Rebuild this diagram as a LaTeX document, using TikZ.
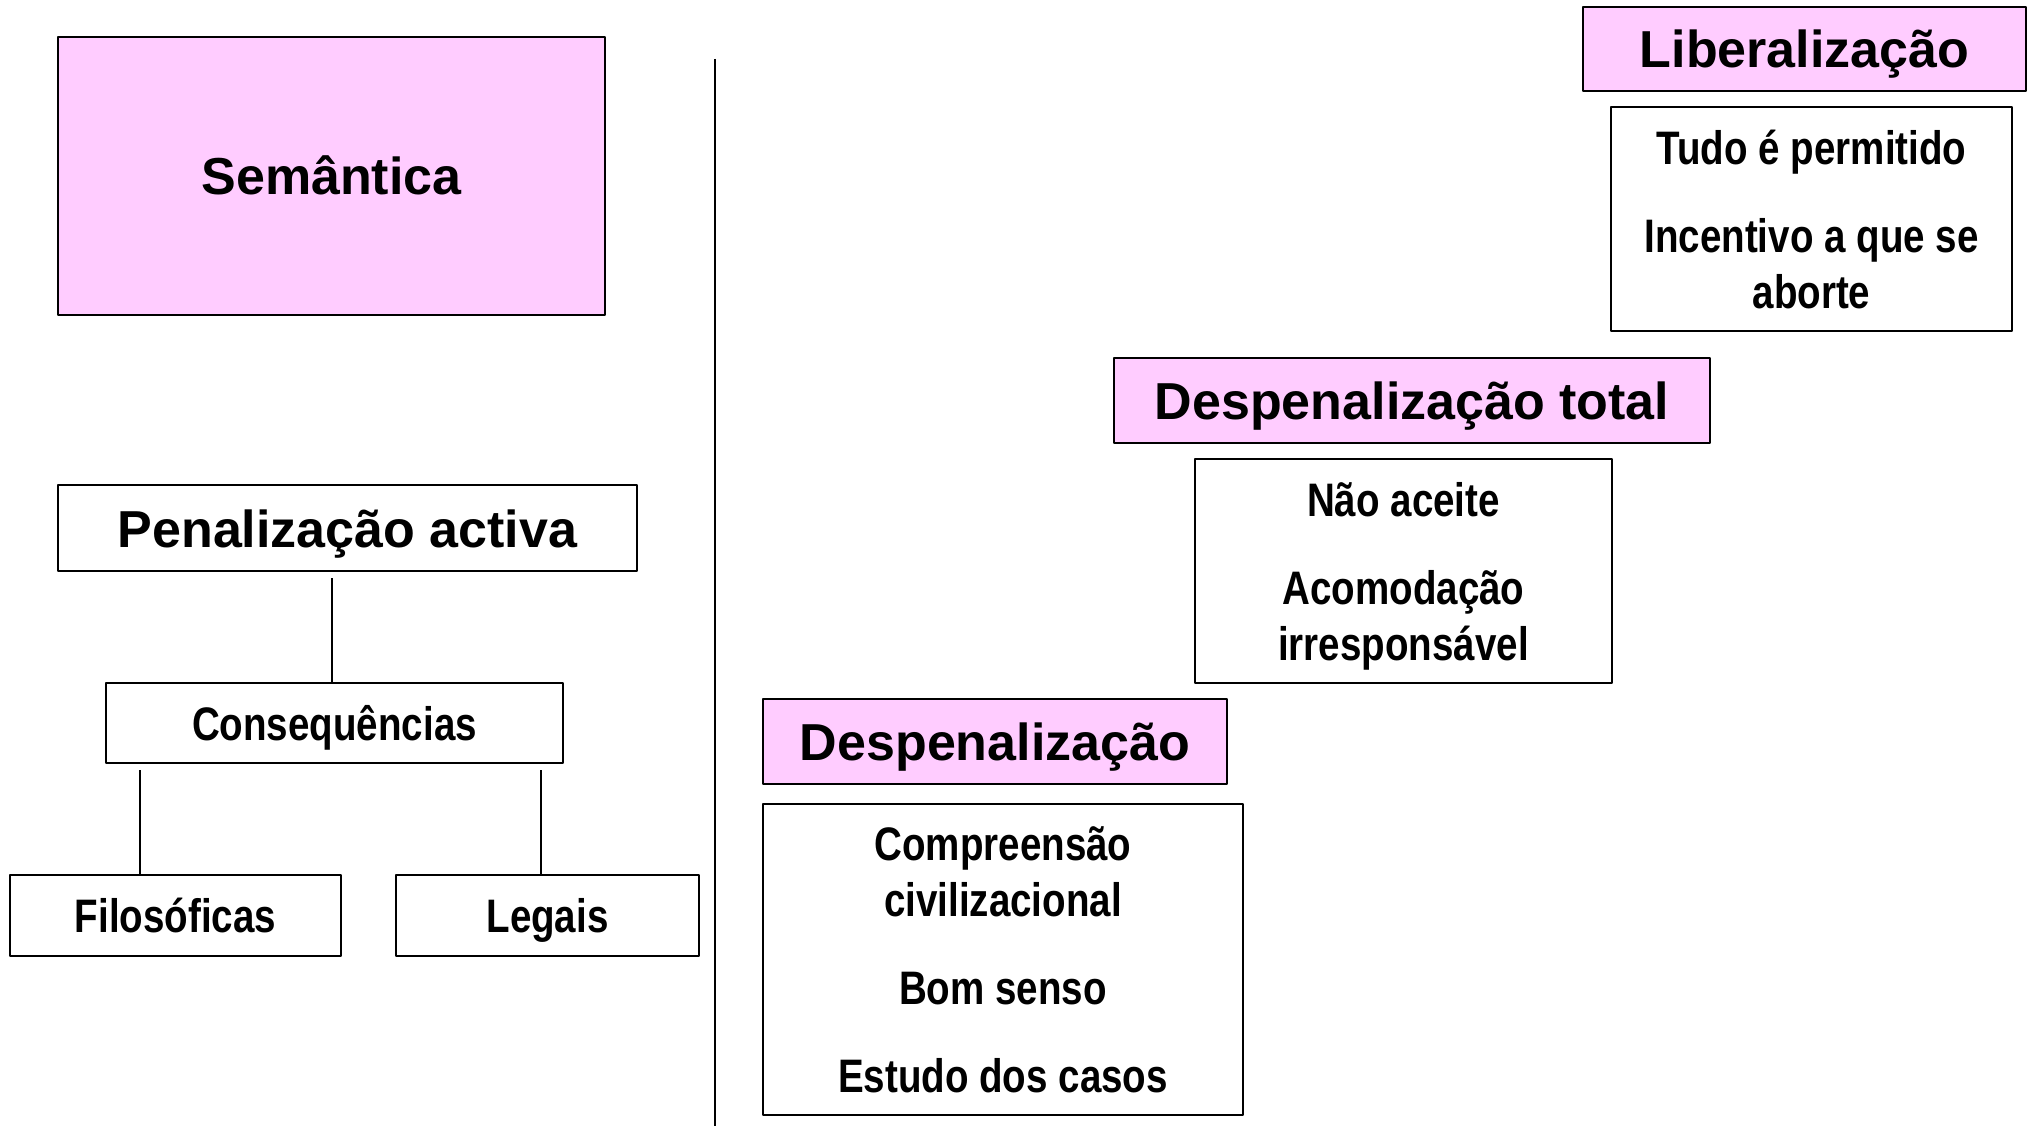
\documentclass[tikz,border=0pt]{standalone}
\usepackage{fontspec}
\setmainfont{Liberation Sans}
\newfontfamily\narrowfont[FakeStretch=0.82]{Liberation Sans}
\definecolor{rosa}{HTML}{FFCCFF}
\tikzset{
  caixa/.style={draw=black,line width=2.5pt,inner sep=0pt,align=center},
  titulo/.style={caixa,fill=rosa,text height=38pt,text depth=0pt,font=\fontsize{52}{60}\selectfont\bfseries},
  negrito/.style={caixa,text height=38pt,text depth=0pt,font=\fontsize{52}{60}\selectfont\bfseries},
  estreito/.style={caixa,text height=34pt,text depth=0pt,font=\narrowfont\fontsize{47}{56}\selectfont\bfseries},
  lista/.style={caixa,text depth=0pt,font=\narrowfont\fontsize{47}{56}\selectfont\bfseries},
  ligacao/.style={line width=2.5pt}
}
\begin{document}
\begin{tikzpicture}[x=1pt,y=-1pt,line join=round]
	\useasboundingbox (0,0) rectangle (2028,1126);
	\def\gap{32pt}
	% lado esquerdo
	\node[titulo,minimum width=547pt,minimum height=278pt] (sem) at (331.5,176) {Semântica};
	\node[negrito,minimum width=579pt,minimum height=86pt] (pen) at (347.5,528) {Penalização activa};
	\node[estreito,minimum width=457pt,minimum height=80pt] (cons) at (334.5,723) {Consequências};
	\node[estreito,minimum width=331pt,minimum height=81pt] (filo) at (175.5,915.5) {Filosóficas};
	\node[estreito,minimum width=303pt,minimum height=81pt] (leg) at (547.5,915.5) {Legais};
	\draw[ligacao,shorten >=6pt] ([xshift=-2.5pt]cons.north) -- ([xshift=-2.5pt]cons.north |- pen.south);
	\draw[ligacao,shorten >=6pt] ([xshift=-35.5pt]filo.north) -- ([xshift=-35.5pt]filo.north |- cons.south);
	\draw[ligacao,shorten >=6pt] ([xshift=-6.5pt]leg.north) -- ([xshift=-6.5pt]leg.north |- cons.south);
	% divisoria
	\coordinate (divtopo) at (715,59);
	\coordinate (divbase) at (715,1126);
	\draw[ligacao] (divtopo) -- (divbase);
	% lado direito, em escada
	\node[titulo,minimum width=464pt,minimum height=85pt] (desp) at (995,741.5) {Despenalização};
	\node[lista,minimum width=480pt,minimum height=311pt] (despdet) at (1003,959.5)
		{Compreensão\\civilizacional\\[\gap]Bom senso\\[\gap]Estudo dos casos};
	\node[titulo,minimum width=596pt,minimum height=85pt] (total) at (1412,400.5) {Despenalização total};
	\node[lista,minimum width=417pt,minimum height=224pt] (totaldet) at (1403.5,571)
		{Não aceite\\[\gap]Acomodação\\irresponsável};
	\node[titulo,minimum width=443pt,minimum height=84pt] (lib) at (1804.5,49) {Liberalização};
	\node[lista,minimum width=401pt,minimum height=224pt] (libdet) at (1811.5,219)
		{Tudo é permitido\\[\gap]Incentivo a que se\\aborte};
\end{tikzpicture}
\end{document}
